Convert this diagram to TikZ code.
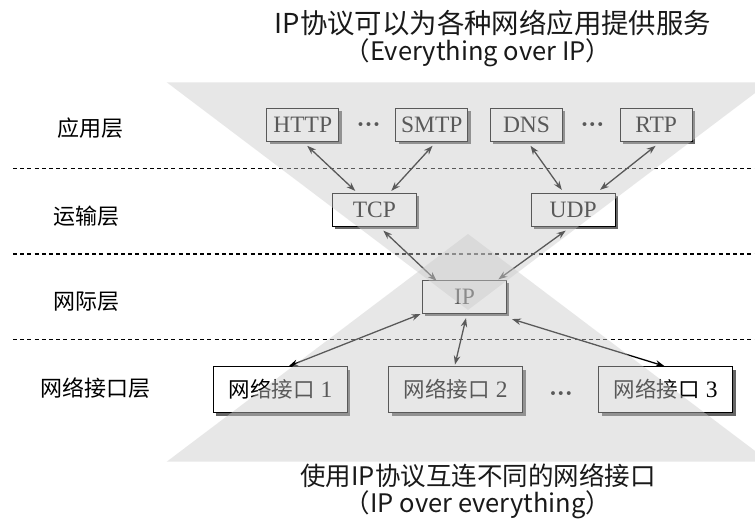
\documentclass[tikz,border=0pt]{standalone}
\usepackage{fontspec}
\setmainfont{Liberation Serif}
\newfontfamily\cjk{Noto Sans CJK SC}
\usetikzlibrary{arrows.meta,shadows}
\definecolor{veil}{RGB}{203,203,203}
\begin{document}
\begin{tikzpicture}[x=1pt,y=-1pt,
  box/.style={draw=black, line width=1.2pt, fill=white, inner sep=0pt,
    minimum height=33pt, font=\fontsize{23.5}{23.5}\selectfont,
    drop shadow={shadow xshift=2.8pt, shadow yshift=-2.8pt, fill=black!60, opacity=1}},
  appbox/.style={box, minimum width=72pt},
  midbox/.style={box, minimum width=84pt},
  ifbox/.style={box, minimum width=134pt, minimum height=46pt},
  layer/.style={font=\cjk\fontsize{22}{22}\selectfont, inner sep=0pt},
  dots/.style={font=\bfseries\fontsize{24}{24}\selectfont, inner sep=0pt},
  caption/.style={font=\cjk\fontsize{25.5}{25.5}\selectfont, inner sep=0pt, text=black!90},
  sep/.style={dash pattern=on 4pt off 3.2pt, line width=1.4pt, black},
  conn/.style={{Stealth[length=9pt,width=6.5pt]}-{Stealth[length=9pt,width=6.5pt]}, line width=1.3pt, black},
  tri/.style={fill=veil, fill opacity=0.443}
]
\useasboundingbox (0,0) rectangle (755,519);
\fill[white] (0,0) rectangle (755,519);

% layer separators
\coordinate (s1a) at (13,168.3); \coordinate (s1b) at (755,168.3);
\coordinate (s2a) at (13,254);   \coordinate (s2b) at (755,254);
\coordinate (s3a) at (13,339.5); \coordinate (s3b) at (755,339.5);
\draw[sep] (s1a) -- (s1b);
\draw[sep] (s2a) -- (s2b);
\draw[sep] (s3a) -- (s3b);

% layer labels
\node[layer] (l1) at (90,128.3) {应用层};
\node[layer] (l2) at (86,216.7) {运输层};
\node[layer] (l3) at (86,301.7) {网际层};
\node[layer] (l4) at (95,388) {网络接口层};

% boxes
\node[appbox] (http) at (302.75,124.7) {HTTP};
\node[appbox] (smtp) at (431.75,124.7) {SMTP};
\node[appbox] (dns)  at (526.5,124.7) {DNS};
\node[appbox] (rtp)  at (656.2,124.7) {RTP};
\node[dots] (d1) at (368.6,128) {···};
\node[dots] (d2) at (592.5,128) {···};

\node[midbox] (tcp) at (374.3,210) {TCP};
\node[midbox] (udp) at (573.2,210) {UDP};
\node[midbox] (ip)  at (464.6,297) {IP};

\node[ifbox] (if1) at (280.5,389.7) {{\cjk\fontsize{21.5}{21.5}\selectfont 网络接口}\hspace{6pt}1};
\node[ifbox] (if2) at (455.7,389.7) {{\cjk\fontsize{21.5}{21.5}\selectfont 网络接口}\hspace{6pt}2};
\node[ifbox] (if3) at (665.7,389.7) {{\cjk\fontsize{21.5}{21.5}\selectfont 网络接口}\hspace{6pt}3};
\node[dots] (d3) at (561,396.7) {···};

% connectors
\draw[conn] ([xshift=4.5pt,yshift=-4pt]http.south) -- ([xshift=-19pt,yshift=2pt]tcp.north);
\draw[conn] ([xshift=0.8pt,yshift=-4pt]smtp.south) -- ([xshift=17pt,yshift=2pt]tcp.north);
\draw[conn] ([xshift=4pt,yshift=-4pt]dns.south) -- ([xshift=-11.4pt,yshift=3pt]udp.north);
\draw[conn] ([xshift=-0.6pt,yshift=-4pt]rtp.south) -- ([xshift=26.8pt,yshift=3pt]udp.north);
\draw[conn] ([xshift=9pt,yshift=-3.5pt]tcp.south) -- ([xshift=-28pt,yshift=-1pt]ip.north);
\draw[conn] ([xshift=-7.5pt,yshift=-3.5pt]udp.south) -- ([xshift=33.7pt,yshift=0.5pt]ip.north);
\draw[conn] ([xshift=-1.5pt]ip.south west) -- ([xshift=8.4pt]if1.north);
\draw[conn] ([xshift=1.4pt,yshift=-4pt]ip.south) -- ([xshift=-0.7pt,yshift=1.5pt]if2.north);
\draw[conn] ([xshift=4.8pt,yshift=-5pt]ip.south east) -- ([xshift=-1.3pt]if3.north);

% translucent veils
\begin{scope}
\clip (0,0) rectangle (755,519);
\fill[tri] (166.7,82.3) -- (769.3,82.3) -- (468,310) -- cycle;
\fill[tri] (468,234) -- (769.3,461.7) -- (166.7,461.7) -- cycle;
\end{scope}

% captions
\node[caption, font=\cjk\fontsize{27.4}{27.4}\selectfont] (t1) at (493,23) {IP协议可以为各种网络应用提供服务};
\node[caption] (t2) at (478,53) {（Everything over IP）};
\node[caption] (b1) at (478,476) {使用IP协议互连不同的网络接口};
\node[caption] (b2) at (478,505) {（IP over everything）};
\end{tikzpicture}
\end{document}
